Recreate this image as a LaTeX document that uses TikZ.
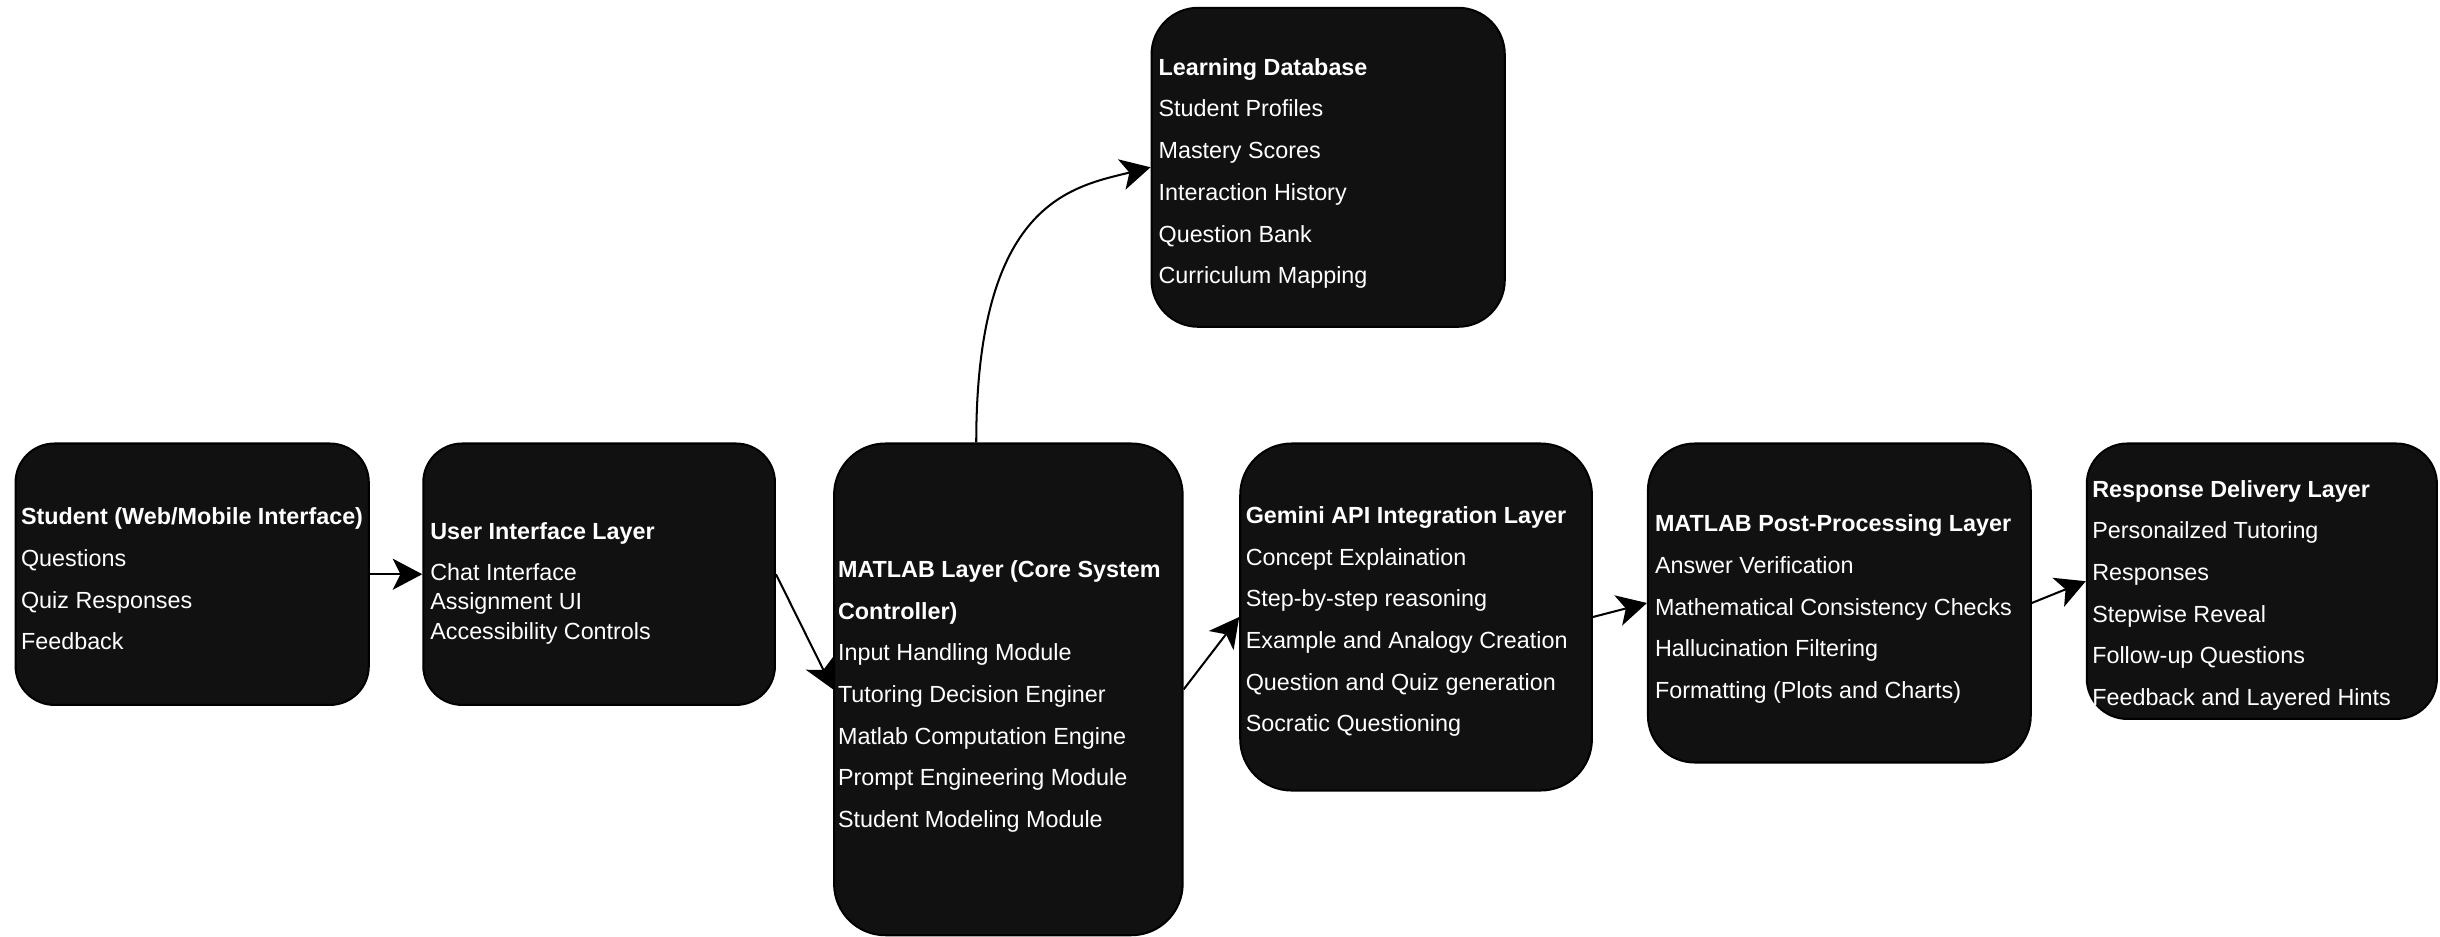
\documentclass[tikz,border=0pt]{standalone}
\usepackage{fontspec}
\setmainfont{Liberation Sans}
\usetikzlibrary{arrows.meta}
\definecolor{boxfill}{HTML}{111111}
\begin{document}
\begin{tikzpicture}[x=1pt,y=-1pt,
  box/.style={draw=black, line width=1.3pt, fill=boxfill, shape=rectangle, inner sep=0pt},
  txt/.style={text=white, align=left, inner sep=0pt, anchor=west, font=\fontsize{15}{26.8}\selectfont},
  arr/.style={draw=black, line width=1.3pt, -{Stealth[length=19pt,width=20pt,inset=5pt]}}]
\useasboundingbox[fill=white] (0,0) rectangle (1568,602);

% boxes
\node[box, minimum width=227pt, minimum height=168pt, rounded corners=25pt] (student) at (123.5,369) {};
\node[box, minimum width=226pt, minimum height=168pt, rounded corners=25pt] (ui) at (385,369) {};
\node[box, minimum width=224pt, minimum height=316pt, rounded corners=33pt] (matlab) at (648,443) {};
\node[box, minimum width=226pt, minimum height=223pt, rounded corners=33pt] (gemini) at (910,396.5) {};
\node[box, minimum width=246pt, minimum height=205pt, rounded corners=30pt] (post) at (1182,387.5) {};
\node[box, minimum width=225pt, minimum height=177pt, rounded corners=26pt] (resp) at (1453.5,373.5) {};
\node[box, minimum width=227pt, minimum height=205pt, rounded corners=30pt] (db) at (853.5,107.5) {};

% texts
\node[txt, yshift=-3pt] (studentT) at ([xshift=4pt]student.west)
  {\textbf{Student (Web/Mobile Interface)}\\Questions\\Quiz Responses\\Feedback};
\node[txt, yshift=-6pt, font=\fontsize{15}{19}\selectfont] (uiT) at ([xshift=5pt]ui.west)
  {\textbf{User Interface Layer}\\[7pt]Chat Interface\\Assignment UI\\Accessibility Controls};
\node[txt, yshift=-4.5pt] (matlabT) at ([xshift=3pt]matlab.west)
  {\textbf{MATLAB Layer (Core System}\\\textbf{Controller)}\\Input Handling Module\\Tutoring Decision Enginer\\Matlab Computation Engine\\Prompt Engineering Module\\Student Modeling Module};
\node[txt, yshift=-3pt] (geminiT) at ([xshift=4pt]gemini.west)
  {\textbf{Gemini API Integration Layer}\\Concept Explaination\\Step-by-step reasoning\\Example and Analogy Creation\\Question and Quiz generation\\Socratic Questioning};
\node[txt, yshift=-4pt] (postT) at ([xshift=5pt]post.west)
  {\textbf{MATLAB Post-Processing Layer}\\Answer Verification\\Mathematical Consistency Checks\\Hallucination Filtering\\Formatting (Plots and Charts)};
\node[txt, yshift=-9pt] (respT) at ([xshift=4pt]resp.west)
  {\textbf{Response Delivery Layer}\\Personailzed Tutoring\\Responses\\Stepwise Reveal\\Follow-up Questions\\Feedback and Layered Hints};
\node[txt, yshift=-4pt] (dbT) at ([xshift=5pt]db.west)
  {\textbf{Learning Database}\\Student Profiles\\Mastery Scores\\Interaction History\\Question Bank\\Curriculum Mapping};

% connectors
\draw[arr] (student.east) -- (ui.west);
\draw[arr] (ui.east) -- (matlab.west);
\draw[arr] (matlab.east) -- (gemini.west);
\draw[arr] (gemini.east) -- (post.west);
\draw[arr] (post.east) -- (resp.west);
\draw[arr] ([xshift=92pt]matlab.north west) .. controls +(0,-155) and +(-50,12.5) .. (db.west);
\end{tikzpicture}
\end{document}
